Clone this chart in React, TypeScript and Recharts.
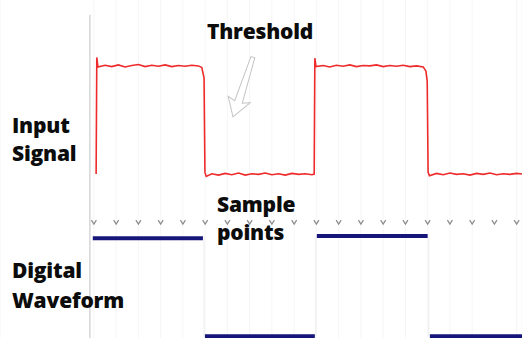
import {
  ComposedChart,
  Line,
  Scatter,
  XAxis,
  YAxis,
  CartesianGrid,
  ReferenceLine,
} from 'recharts';

// time is measured in sample periods, level in arbitrary volts
const sampleTimes = [0, 1, 2, 3, 4, 5, 6, 7, 8, 9, 10, 11, 12, 13, 14, 15, 16, 17, 18, 19];
const sampleLevel = 3.43;

const inputSignal: [number, number][] = [
  [0.1, 4.85], [0.13, 8.3], [0.18, 8.02], [0.5, 8.07], [0.8, 8.03], [1.1, 8.08], [1.4, 8.02],
  [1.7, 8.06], [2.0, 8.09], [2.3, 8.03], [2.6, 8.07], [2.9, 8.04], [3.2, 8.08], [3.5, 8.03],
  [3.8, 8.06], [4.1, 8.04], [4.4, 8.07], [4.7, 8.05], [4.85, 8.0], [4.95, 7.7], [4.99, 4.9],
  [5.05, 4.78], [5.3, 4.86], [5.6, 4.82], [5.9, 4.87], [6.2, 4.83], [6.5, 4.88], [6.8, 4.82],
  [7.1, 4.86], [7.4, 4.84], [7.7, 4.88], [8.0, 4.83], [8.3, 4.86], [8.6, 4.82], [8.9, 4.87],
  [9.2, 4.84], [9.5, 4.86], [9.8, 4.83], [9.9, 4.85],
  [9.93, 8.28], [9.98, 8.03], [10.3, 8.06], [10.6, 8.02], [10.9, 8.07], [11.2, 8.04], [11.5, 8.08],
  [11.8, 8.03], [12.1, 8.06], [12.4, 8.05], [12.7, 8.08], [13.0, 8.03], [13.3, 8.06], [13.6, 8.04],
  [13.9, 8.07], [14.2, 8.03], [14.5, 8.05], [14.8, 8.02], [14.92, 7.9], [14.98, 7.6], [15.02, 4.9],
  [15.08, 4.8], [15.4, 4.87], [15.7, 4.83], [16.0, 4.88], [16.3, 4.84], [16.6, 4.86], [16.9, 4.82],
  [17.2, 4.87], [17.5, 4.84], [17.8, 4.88], [18.1, 4.83], [18.4, 4.86], [18.7, 4.84], [19.0, 4.87],
  [19.3, 4.85],
];

// [start, end, level] of each digital segment
const digitalSegments: [number, number, number][] = [
  [-0.05, 4.9, 2.95],
  [4.99, 9.93, 0.05],
  [10.02, 15.0, 3.02],
  [15.1, 19.3, 0.05],
];
const edgeTimes = [4.95, 9.97, 15.05];

const thresholdArrow = [{ t: 6.25, v: 6.54 }];

const inputData = inputSignal.map(([t, v]) => ({ t, v }));
const sampleData = sampleTimes.map((t) => ({ t, v: sampleLevel }));

const labelStyle: React.CSSProperties = {
  position: 'absolute',
  fontFamily: '"Open Sans", sans-serif',
  fontWeight: 800,
  fontSize: 21,
  lineHeight: '26px',
  letterSpacing: -0.2,
  color: '#0c0c0c',
  whiteSpace: 'nowrap',
};

const SampleMark = (p: any) => (
  <path
    d={`M${p.cx - 2.5},${p.cy - 2} L${p.cx},${p.cy + 2} L${p.cx + 2.5},${p.cy - 2}`}
    stroke="#8a8a8a"
    strokeWidth={1.2}
    fill="none"
  />
);

const Arrow = (p: any) => (
  <g transform={`translate(${p.cx},${p.cy}) rotate(18.4)`}>
    <polygon
      points="0,0 -11,-18 -3.5,-16 -2,-63 2,-63 4.5,-16 12,-19"
      fill="#fff"
      stroke="#c4c4c4"
      strokeWidth={1}
    />
  </g>
);

export default function App() {
  return (
    <div style={{ position: 'absolute', left: 0, top: 0, width: 522, height: 338, background: '#fff' }}>
      <ComposedChart width={522} height={338} margin={{ top: 0, right: 0, bottom: 0, left: 0 }}>
        <XAxis type="number" dataKey="t" domain={[-4.22, 19.24]} ticks={sampleTimes} hide allowDataOverflow />
        <YAxis type="number" domain={[0, 10]} hide allowDataOverflow />
        <CartesianGrid horizontal={false} stroke="#f6f6f6" />
        <ReferenceLine
          segment={[{ x: -0.18, y: 9.56 }, { x: -0.18, y: 0 }]}
          stroke="#d6d6d6"
          strokeWidth={1.5}
        />
        {edgeTimes.map((t) => (
          <ReferenceLine key={t} segment={[{ x: t, y: 0.05 }, { x: t, y: 3 }]} stroke="#ececec" />
        ))}
        <Line
          data={inputData}
          dataKey="v"
          type="linear"
          stroke="#ee2a2a"
          strokeWidth={1.6}
          dot={false}
          activeDot={false}
          isAnimationActive={false}
        />
        {digitalSegments.map(([a, b, v]) => (
          <Line
            key={a}
            data={[{ t: a, v }, { t: b, v }]}
            dataKey="v"
            type="linear"
            stroke="#16167a"
            strokeWidth={4}
            dot={false}
            activeDot={false}
            isAnimationActive={false}
          />
        ))}
        <Scatter data={sampleData} dataKey="v" shape={SampleMark} isAnimationActive={false} />
        <Scatter data={thresholdArrow} dataKey="v" shape={Arrow} isAnimationActive={false} />
      </ComposedChart>
      <div style={{ ...labelStyle, left: 207, top: 18 }}>Threshold</div>
      <div style={{ ...labelStyle, left: 12, top: 112 }}>Input</div>
      <div style={{ ...labelStyle, left: 12, top: 140 }}>Signal</div>
      <div style={{ ...labelStyle, left: 217, top: 191 }}>Sample</div>
      <div style={{ ...labelStyle, left: 217, top: 219 }}>points</div>
      <div style={{ ...labelStyle, left: 12, top: 257 }}>Digital</div>
      <div style={{ ...labelStyle, left: 12, top: 287 }}>Waveform</div>
    </div>
  );
}
